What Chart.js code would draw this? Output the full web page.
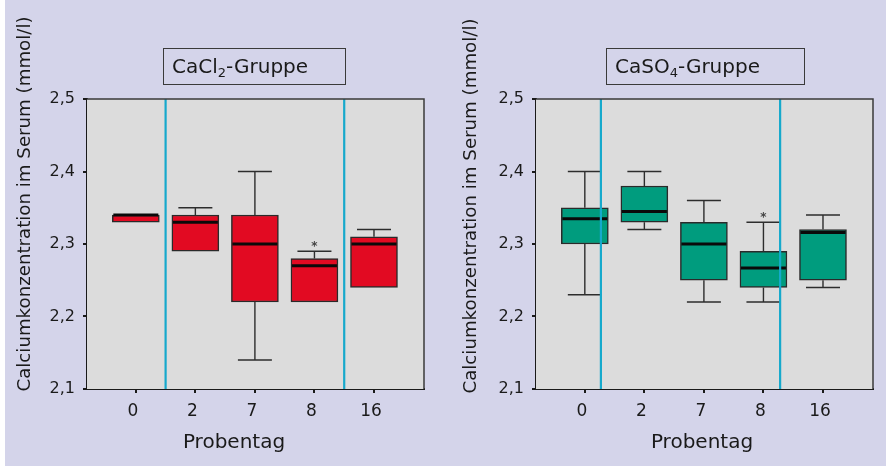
<!DOCTYPE html>
<html>
<head>
<meta charset="utf-8">
<script src="https://cdn.jsdelivr.net/npm/chart.js@4"></script>
<style>
  html, body { margin: 0; padding: 0; background: #ffffff; width: 886px; height: 470px; overflow: hidden; }
  #panel { position: absolute; left: 5px; top: 0; width: 881px; height: 466px; background: #d4d4ea; }
  .chartwrap { position: absolute; top: 0; width: 443px; height: 470px; }
  .chartwrap canvas { display: block; }
  .tbox {
    position: absolute; top: 48px; height: 37px; box-sizing: border-box;
    border: 1.5px solid #3a3a3a; color: #1a1a1a;
    font: 20px "DejaVu Sans", sans-serif; line-height: 34px; padding-left: 8px; white-space: nowrap;
  }
  .tbox sub { font-size: 13px; vertical-align: -4px; line-height: 0; }
</style>
</head>
<body>
<div id="panel"></div>
<div class="chartwrap" style="left:0"><canvas id="cacl2" width="443" height="470"></canvas></div>
<div class="chartwrap" style="left:443px"><canvas id="caso4" width="443" height="470"></canvas></div>
<div class="tbox" style="left:163px;width:183px">CaCl<sub>2</sub>-Gruppe</div>
<div class="tbox" style="left:606px;width:199px">CaSO<sub>4</sub>-Gruppe</div>

<script>
// Sampling days (Probentag)
const days = ['0', '2', '7', '8', '16'];
const yTicks = [2.1, 2.2, 2.3, 2.4, 2.5];

// CaCl2 group: serum calcium (mmol/l) box-plot statistics per day
const cacl2Min     = [2.33, 2.29, 2.14, 2.22, 2.24];
const cacl2Q1      = [2.33, 2.29, 2.22, 2.22, 2.24];
const cacl2Median  = [2.34, 2.33, 2.30, 2.27, 2.30];
const cacl2Q3      = [2.34, 2.34, 2.34, 2.28, 2.31];
const cacl2Max     = [2.34, 2.35, 2.40, 2.29, 2.32];
const cacl2Extreme = [null, null, null, 2.30, null];
const cacl2Dividers = [0.5, 3.5];

// CaSO4 group
const caso4Min     = [2.23, 2.32, 2.22, 2.22, 2.24];
const caso4Q1      = [2.30, 2.33, 2.25, 2.24, 2.25];
const caso4Median  = [2.335, 2.345, 2.30, 2.267, 2.316];
const caso4Q3      = [2.35, 2.38, 2.33, 2.29, 2.32];
const caso4Max     = [2.40, 2.40, 2.36, 2.33, 2.34];
const caso4Extreme = [null, null, null, 2.34, null];
const caso4Dividers = [0.27, 3.28];

const FONT = '"DejaVu Sans", sans-serif';
const TEXT = '#1a1a1a';
Chart.defaults.font.family = FONT;
Chart.defaults.color = TEXT;

// Whiskers, medians, extreme markers, divider lines, frame and axis titles
const boxplotExtras = {
  id: 'boxplotExtras',
  beforeDatasetsDraw(chart, args, o) {
    const { ctx, chartArea: a } = chart;
    ctx.save();
    ctx.fillStyle = '#dcdcdc';
    ctx.fillRect(a.left, a.top, a.right - a.left, a.bottom - a.top);
    ctx.restore();
  },
  afterDatasetsDraw(chart, args, o) {
    const { ctx, chartArea: a } = chart;
    const xs = chart.scales.x, ys = chart.scales.y;
    const half = o.boxWidth / 2, cap = o.capWidth / 2;
    ctx.save();
    o.min.forEach((mn, i) => {
      const x = xs.getPixelForValue(i);
      const yMin = ys.getPixelForValue(mn), yMax = ys.getPixelForValue(o.max[i]);
      const yQ1 = ys.getPixelForValue(o.q1[i]), yQ3 = ys.getPixelForValue(o.q3[i]);
      ctx.strokeStyle = '#2d2d2d';
      ctx.lineWidth = 1.4;
      if (o.max[i] > o.q3[i]) {
        ctx.beginPath();
        ctx.moveTo(x, yQ3); ctx.lineTo(x, yMax);
        ctx.moveTo(x - cap, yMax); ctx.lineTo(x + cap, yMax);
        ctx.stroke();
      }
      if (mn < o.q1[i]) {
        ctx.beginPath();
        ctx.moveTo(x, yQ1); ctx.lineTo(x, yMin);
        ctx.moveTo(x - cap, yMin); ctx.lineTo(x + cap, yMin);
        ctx.stroke();
      }
      // median
      const yMed = ys.getPixelForValue(o.median[i]);
      ctx.strokeStyle = '#0a0a0a';
      ctx.lineWidth = 3;
      ctx.beginPath();
      ctx.moveTo(x - half + 1, yMed); ctx.lineTo(x + half - 1, yMed);
      ctx.stroke();
      // extreme value
      if (o.extreme[i] != null) {
        ctx.fillStyle = '#444';
        ctx.font = 'bold 12px ' + FONT;
        ctx.textAlign = 'center';
        ctx.textBaseline = 'middle';
        ctx.fillText('*', x, ys.getPixelForValue(o.extreme[i]) + 3);
      }
    });
    // divider lines between sampling-day groups
    ctx.strokeStyle = '#16a9cc';
    ctx.lineWidth = 2.2;
    o.dividers.forEach(d => {
      const x = xs.getPixelForValue(d);
      ctx.beginPath();
      ctx.moveTo(x, a.top); ctx.lineTo(x, a.bottom);
      ctx.stroke();
    });
    // top and right frame
    ctx.strokeStyle = '#3a3a3a';
    ctx.lineWidth = 1.5;
    ctx.beginPath();
    ctx.moveTo(a.left, a.top); ctx.lineTo(a.right, a.top); ctx.lineTo(a.right, a.bottom);
    ctx.stroke();
    ctx.restore();
  },
  afterDraw(chart, args, o) {
    const { ctx } = chart;
    ctx.save();
    ctx.fillStyle = TEXT;
    ctx.font = '18.2px ' + FONT;
    ctx.textAlign = 'center';
    ctx.textBaseline = 'middle';
    ctx.translate(o.yTitleX, o.yTitleY);
    ctx.rotate(-Math.PI / 2);
    ctx.fillText('Calciumkonzentration im Serum (mmol/l)', 0, 0);
    ctx.restore();
    ctx.save();
    ctx.fillStyle = TEXT;
    ctx.font = '20px ' + FONT;
    ctx.textAlign = 'center';
    ctx.textBaseline = 'alphabetic';
    ctx.fillText('Probentag', o.xTitleX, o.xTitleY);
    ctx.restore();
  }
};

function makeBoxChart(id, color, s, layout) {
  return new Chart(document.getElementById(id), {
    type: 'bar',
    data: {
      datasets: [{
        data: days.map((d, i) => ({ x: i, y: [s.q1[i], s.q3[i]] })),
        backgroundColor: color,
        borderColor: '#2a2a2a',
        borderWidth: 1.5,
        borderSkipped: false,
        barThickness: layout.boxWidth
      }]
    },
    options: {
      responsive: false,
      animation: false,
      layout: { padding: { top: layout.top, right: layout.right, bottom: 0, left: 0 } },
      plugins: {
        legend: { display: false },
        tooltip: { enabled: false },
        boxplotExtras: Object.assign({}, s, layout)
      },
      scales: {
        x: {
          type: 'linear',
          offset: false,
          min: -0.82, max: 4.84,
          afterBuildTicks: sc => { sc.ticks = days.map((d, i) => ({ value: i })); },
          afterFit: sc => { sc.height = 470 - layout.bottomY; },
          ticks: { callback: v => days[v], font: { size: 17 }, color: TEXT, padding: 8, labelOffset: -3, maxRotation: 0 },
          grid: { display: true, offset: false, drawOnChartArea: false, drawTicks: true, tickLength: 4, color: '#1a1a1a', lineWidth: 2 },
          border: { display: true, color: '#1a1a1a', width: 2 }
        },
        y: {
          min: 2.1, max: 2.5,
          afterBuildTicks: sc => { sc.ticks = yTicks.map(v => ({ value: v })); },
          afterFit: sc => { sc.width = layout.left; },
          ticks: { callback: v => v.toFixed(1).replace('.', ','), font: { size: 16 }, color: TEXT, padding: 8 },
          grid: { display: true, drawOnChartArea: false, drawTicks: true, tickLength: 4, color: '#1a1a1a', lineWidth: 2 },
          border: { display: true, color: '#1a1a1a', width: 2 }
        }
      }
    },
    plugins: [boxplotExtras]
  });
}

makeBoxChart('cacl2', '#e20a22', {
  min: cacl2Min, q1: cacl2Q1, median: cacl2Median, q3: cacl2Q3, max: cacl2Max,
  extreme: cacl2Extreme, dividers: cacl2Dividers
}, { left: 87, right: 19, top: 99, bottomY: 389, boxWidth: 47, capWidth: 34,
     yTitleX: 25, yTitleY: 204, xTitleX: 234, xTitleY: 448 });

makeBoxChart('caso4', '#009c7e', {
  min: caso4Min, q1: caso4Q1, median: caso4Median, q3: caso4Q3, max: caso4Max,
  extreme: caso4Extreme, dividers: caso4Dividers
}, { left: 93, right: 13, top: 99, bottomY: 389, boxWidth: 47, capWidth: 34,
     yTitleX: 28, yTitleY: 206, xTitleX: 259, xTitleY: 448 });
</script>
</body>
</html>
